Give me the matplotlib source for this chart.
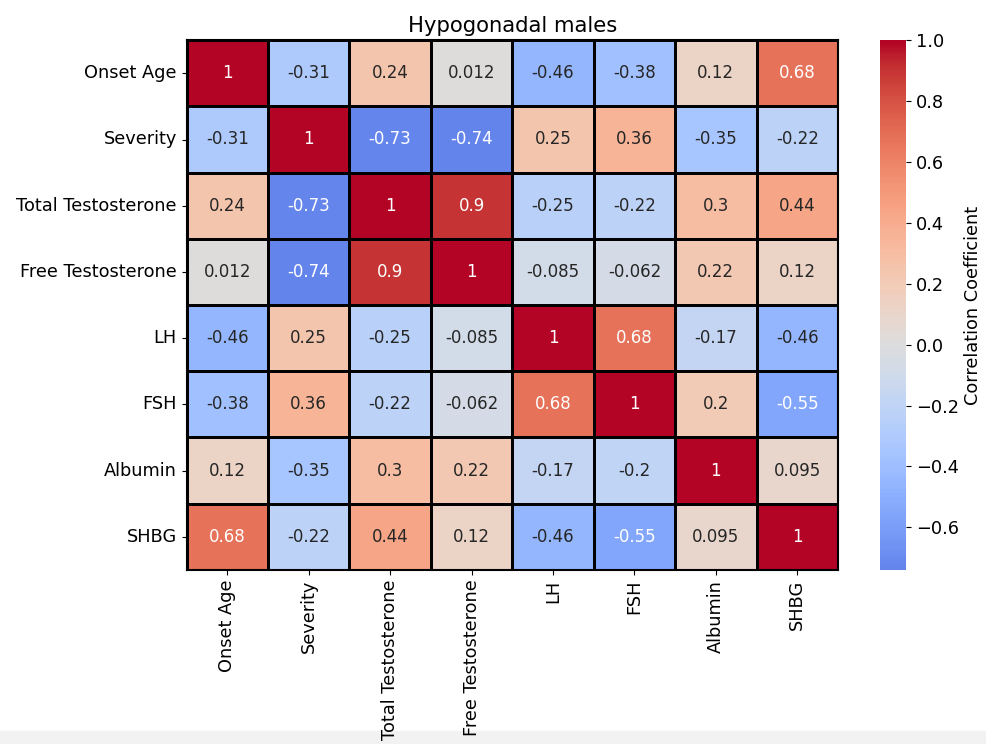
import numpy as np
import pandas as pd
import matplotlib
matplotlib.use("Agg")
import matplotlib.pyplot as plt
import seaborn as sns

labels = ["Onset Age", "Severity", "Total Testosterone", "Free Testosterone",
          "LH", "FSH", "Albumin", "SHBG"]

# correlation matrix
onset_age = [1, -0.31, 0.24, 0.012, -0.46, -0.38, 0.12, 0.68]
severity = [-0.31, 1, -0.73, -0.74, 0.25, 0.36, -0.35, -0.22]
total_t = [0.24, -0.73, 1, 0.9, -0.25, -0.22, 0.3, 0.44]
free_t = [0.012, -0.74, 0.9, 1, -0.085, -0.062, 0.22, 0.12]
lh = [-0.46, 0.25, -0.25, -0.085, 1, 0.68, -0.17, -0.46]
fsh = [-0.38, 0.36, -0.22, -0.062, 0.68, 1, 0.2, -0.55]
albumin = [0.12, -0.35, 0.3, 0.22, -0.17, -0.2, 1, 0.095]
shbg = [0.68, -0.22, 0.44, 0.12, -0.46, -0.55, 0.095, 1]

corr = pd.DataFrame([onset_age, severity, total_t, free_t, lh, fsh, albumin, shbg],
                    index=labels, columns=labels)

fig = plt.figure(figsize=(9.87, 7.44), dpi=100)
ax = fig.add_axes([0.189, 0.234, 0.660, 0.712])
cax = fig.add_axes([0.892, 0.234, 0.026, 0.712])

sns.heatmap(corr, annot=True, cmap="coolwarm", center=0, linewidths=2,
            linecolor="black", ax=ax, cbar_ax=cax,
            annot_kws={"fontsize": 12},
            cbar_kws={"label": "Correlation Coefficient"})

ax.set_title("Hypogonadal males", fontsize=15.2)
ax.tick_params(axis="both", labelsize=12.8)
ax.set_xticklabels(labels, rotation=90)
ax.set_yticklabels(labels, rotation=0)
for s in ax.spines.values():
    s.set_visible(True)
    s.set_linewidth(1.5)

cax.tick_params(labelsize=12.8)
cax.yaxis.label.set_size(12.8)

# light strip at the bottom of the screenshot
fig.patches.append(plt.Rectangle((0, 0), 1, 0.018, transform=fig.transFigure,
                                 color="#f2f2f2", zorder=-1))

fig.savefig("out.png", dpi=100)
